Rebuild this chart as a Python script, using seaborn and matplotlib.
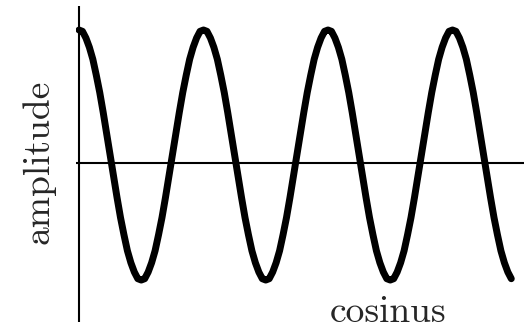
import numpy as np
import matplotlib
matplotlib.use("Agg")
import matplotlib.pyplot as plt
import seaborn as sns

# 한 주기를 36칸으로 나눠 그림에서 읽은 진폭 값 (3.5주기 조금 못 미쳐서 끝남)
one_period = [1.00, 0.99, 0.94, 0.87, 0.78, 0.66, 0.53, 0.38, 0.22, 0.06, -0.10, -0.26,
              -0.41, -0.54, -0.66, -0.75, -0.82, -0.87, -0.88, -0.87, -0.82, -0.75, -0.66, -0.54,
              -0.41, -0.26, -0.10, 0.06, 0.22, 0.38, 0.53, 0.66, 0.78, 0.87, 0.94, 0.99]
last_part = [1.00, 0.99, 0.94, 0.87, 0.78, 0.66, 0.53, 0.38, 0.22, 0.06, -0.10, -0.26,
             -0.41, -0.54, -0.66, -0.75, -0.82, -0.87]
amplitude = one_period * 3 + last_part
phase = np.arange(len(amplitude)) / 36  # 주기 단위

x_label = "cosinus"
y_label = "amplitude"

sns.set_style("white")

fig = plt.figure(figsize=(5.24, 3.29), dpi=100)
W, H = 524, 329
ax = fig.add_axes([76 / W, 1 - 322 / H, (W - 76) / W, (322 - 6) / H])

sns.lineplot(x=phase, y=amplitude, ax=ax, color="black", linewidth=5.0,
             sort=False, solid_capstyle="round", solid_joinstyle="round")

# 축 범위 (픽셀 위치에 맞춤)
ax.set_xlim(-3 / 124.5, (W - 79) / 124.5)
ax.set_ylim(-(322 - 163) / 133, (163 - 6) / 133)

# 축선
ax.axvline(0, color="black", linewidth=1.5)
ax.axhline(0, color="black", linewidth=1.5)

for s in ax.spines.values():
    s.set_visible(False)
ax.set_xticks([])
ax.set_yticks([])
ax.set_xlabel("")
ax.set_ylabel("")

fig.text(39 / W, 1 - 162 / H, y_label, rotation=90, ha="center", va="center",
         fontsize=27, family="cmr10")
fig.text(388 / W, 1 - 312.5 / H, x_label, ha="center", va="center",
         fontsize=27, family="cmr10")

fig.savefig("out.png", dpi=100)
